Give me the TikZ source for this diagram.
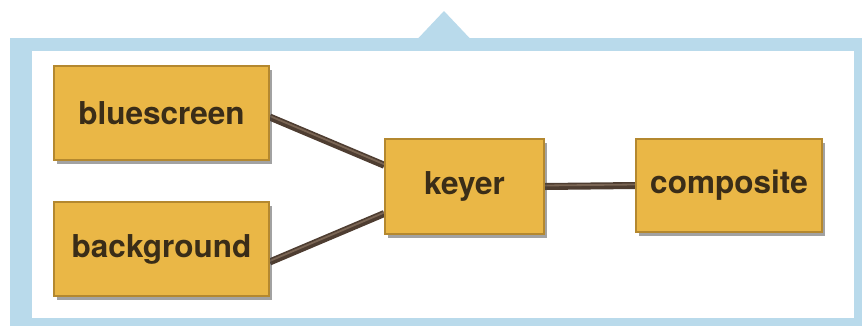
\documentclass[tikz,border=0pt]{standalone}
\usepackage{fontspec}
\setmainfont{TeX Gyre Heros}
\usetikzlibrary{shadows,calc}
\definecolor{frameblue}{HTML}{B9DAEB}
\definecolor{boxfill}{HTML}{EAB746}
\definecolor{boxedge}{HTML}{B4882F}
\definecolor{boxtext}{HTML}{3A2D18}
\definecolor{wire}{HTML}{4E3D31}
\definecolor{wirelight}{HTML}{7A6554}
\tikzset{
  blockbox/.style={draw=boxedge, line width=1.4pt, fill=boxfill, text=boxtext,
    font=\fontsize{31.5}{33}\selectfont\bfseries, inner sep=0pt,
    drop shadow={shadow xshift=3pt, shadow yshift=-4pt, opacity=0.3, fill=black!70}},
  wirebase/.style={draw=wire, line width=7pt},
  wiretop/.style={draw=wirelight, line width=1.8pt}
}
\begin{document}
\begin{tikzpicture}[x=1pt,y=-1pt]
\useasboundingbox (0,0) rectangle (862,325);
% frame
\fill[frameblue] (10,38) rectangle (875,340);
\fill[frameblue] (418,38.5) -- (444,11) -- (470,38.5) -- cycle;
\fill[white] (32,51) rectangle (854,318);
% nodes
\node[blockbox, minimum width=215pt, minimum height=94pt] (bs) at (161.5,113) {bluescreen};
\node[blockbox, minimum width=215pt, minimum height=94pt] (bg) at (161.5,249) {background};
\node[blockbox, minimum width=159pt, minimum height=95pt] (k) at (464.5,186.5) {keyer};
\node[blockbox, minimum width=186pt, minimum height=93pt] (c) at (729,185.5) {composite};
% connectors
\coordinate (k1) at ($(k.north west)!0.28!(k.south west)$);
\coordinate (k2) at ($(k.north west)!0.78!(k.south west)$);
\coordinate (b1) at ($(bs.east)+(0,4)$);
\coordinate (b2) at ($(bg.east)+(0,13)$);
\draw[wirebase] (b1) -- (k1);
\draw[wirebase] (b2) -- (k2);
\draw[wirebase] (k.east) -- (c.west);
\draw[wiretop] ($(b1)+(0,-1)$) -- ($(k1)+(0,-1)$);
\draw[wiretop] ($(b2)+(0,-1)$) -- ($(k2)+(0,-1)$);
\draw[wiretop] ($(k.east)+(0,-1)$) -- ($(c.west)+(0,-1)$);
% redraw nodes over wire ends
\node[blockbox, minimum width=215pt, minimum height=94pt] at (bs) {bluescreen};
\node[blockbox, minimum width=215pt, minimum height=94pt] at (bg) {background};
\node[blockbox, minimum width=159pt, minimum height=95pt] at (k) {keyer};
\node[blockbox, minimum width=186pt, minimum height=93pt] at (c) {composite};
\end{tikzpicture}
\end{document}
